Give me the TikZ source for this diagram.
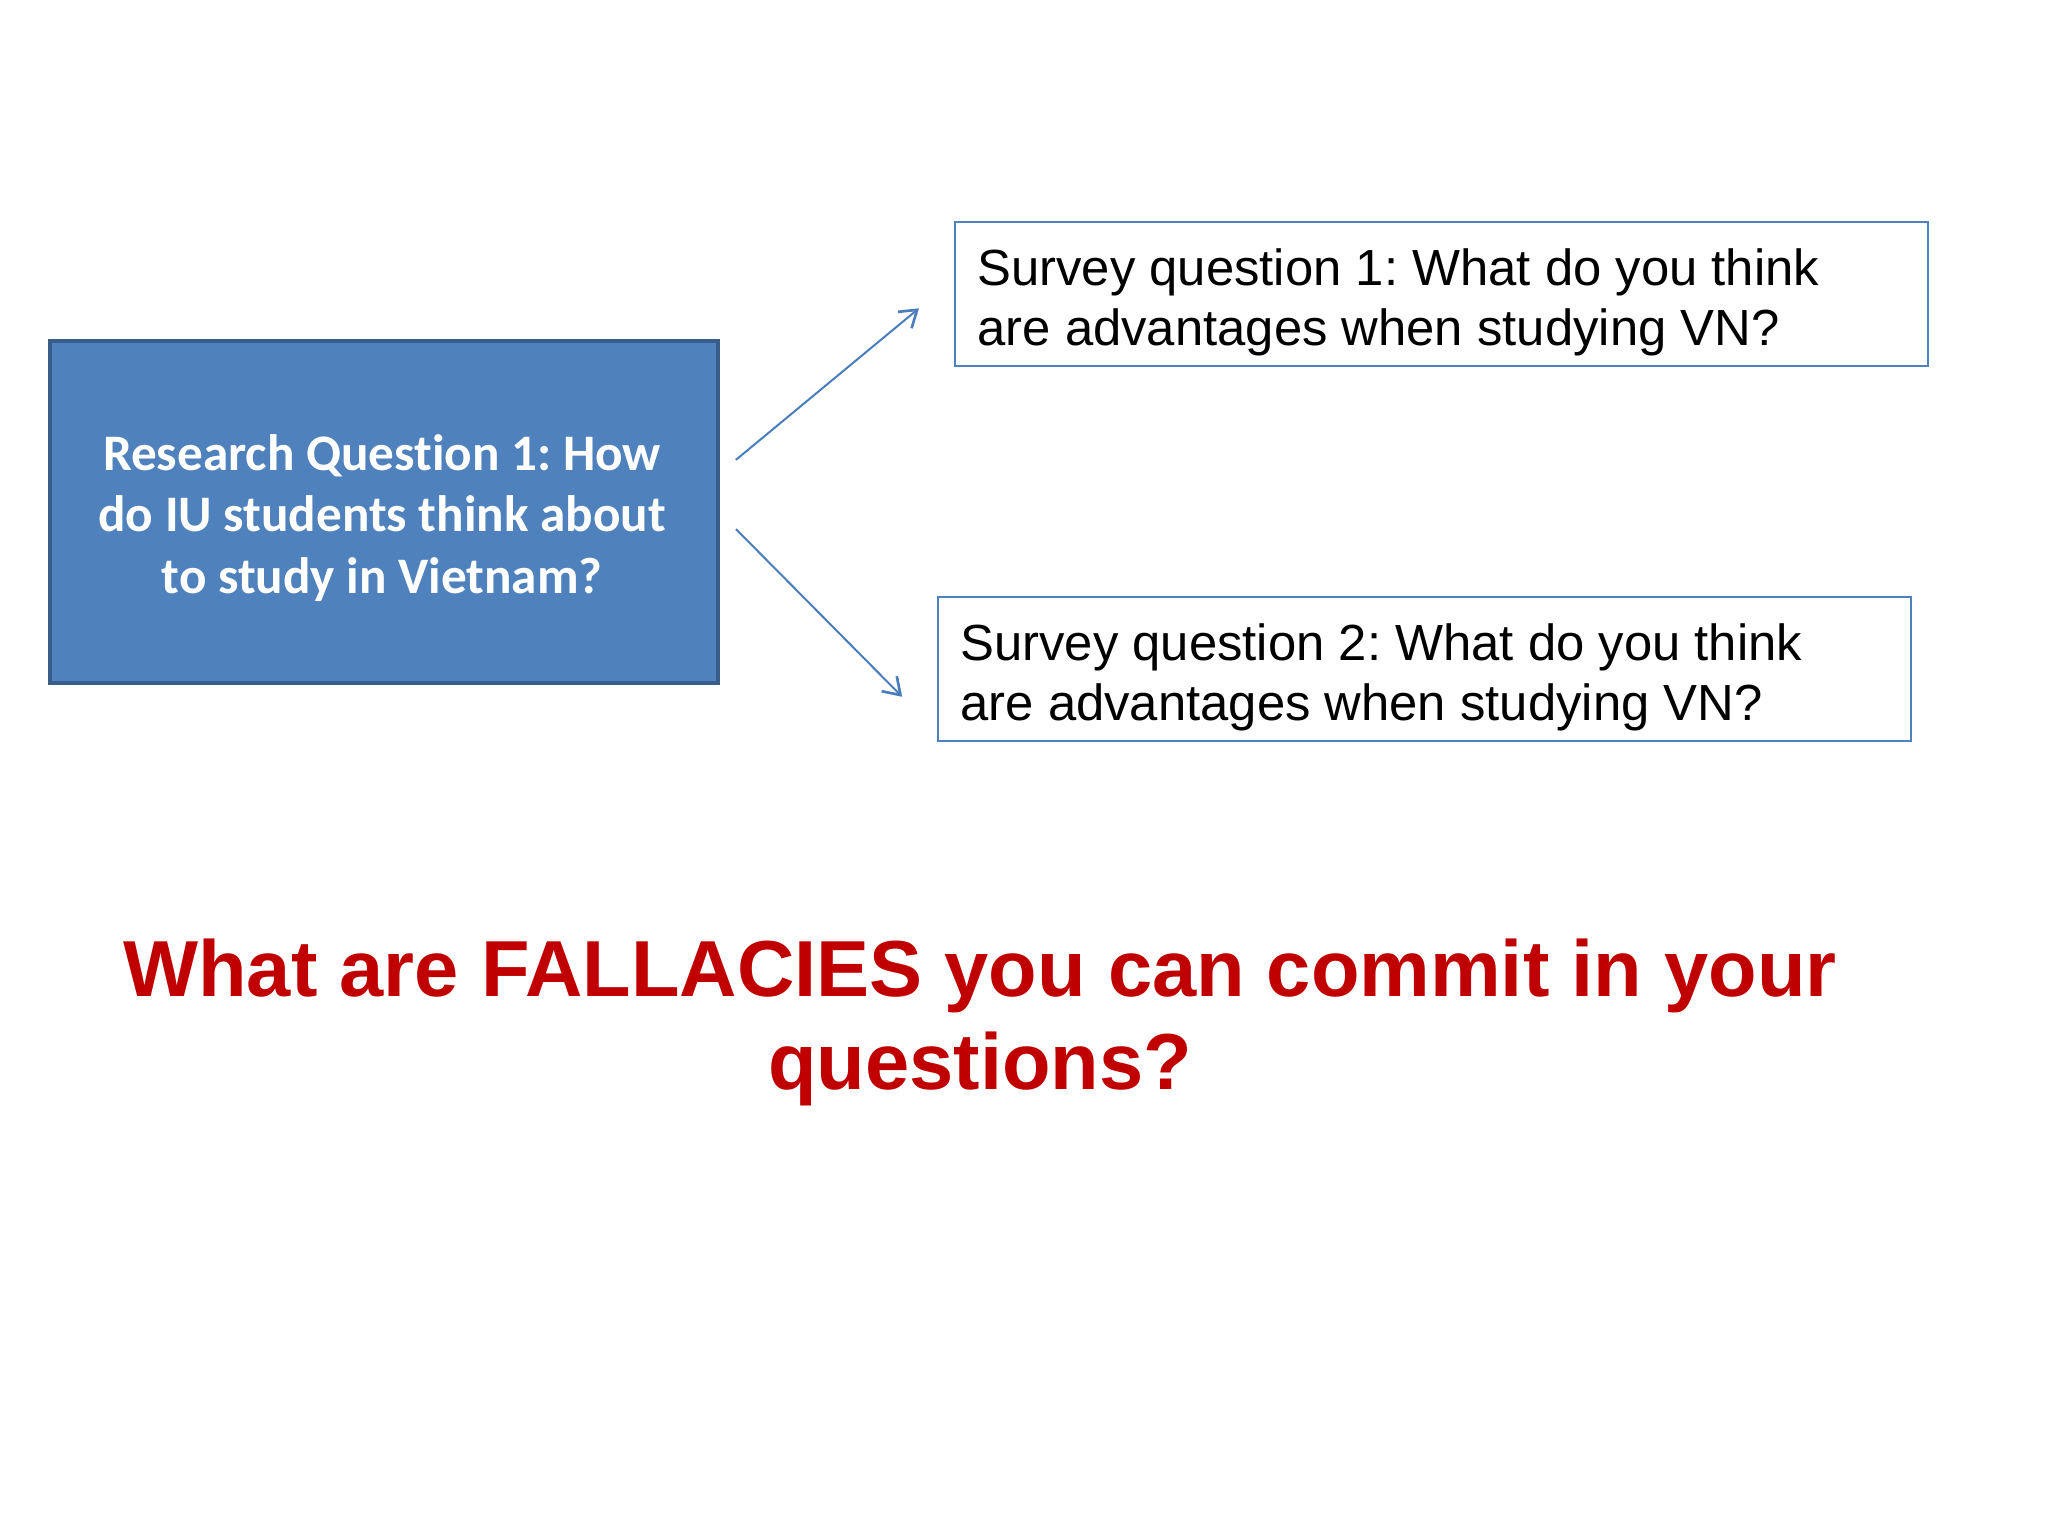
\documentclass[tikz,border=0pt]{standalone}
\usepackage{fontspec}
\setmainfont{Liberation Sans}
\newfontfamily\calibri[Ligatures=NoCommon]{Carlito}
\usetikzlibrary{arrows.meta}
\frenchspacing
\definecolor{boxblue}{HTML}{4F81BD}
\definecolor{boxedge}{HTML}{385D8A}
\definecolor{lineblue}{HTML}{4A7EBB}
\definecolor{slidered}{HTML}{C00000}
\tikzset{
  rqbox/.style={draw=boxedge, line width=1.5pt, fill=boxblue, minimum width=250.5pt, minimum height=128.25pt, inner sep=0pt},
  rqtext/.style={text=white, align=center, inner sep=0pt, font=\calibri\bfseries\fontsize{19.2pt}{22.9pt}\selectfont},
  sbox/.style={draw=boxblue, line width=0.8pt, minimum width=364.9pt, minimum height=54pt, inner sep=0pt},
  stext/.style={anchor=west, align=left, inner sep=0pt, font=\fontsize{19.05pt}{22.5pt}\selectfont},
  arr/.style={draw=lineblue, line width=0.75pt, -{Straight Barb[length=6pt,width=8pt,line width=1pt]}},
  bigq/.style={text=slidered, align=center, inner sep=0pt, font=\bfseries\fontsize{29.8pt}{34.9pt}\selectfont}
}
\begin{document}
\begin{tikzpicture}[x=0.375pt,y=-0.375pt]
\useasboundingbox (0,0) rectangle (2048,1536);
\fill[white] (0,0) rectangle (2048,1536);
% research question box
\node[rqbox] (rq) at (384,512) {};
\node[rqtext] (rqt) at (382,518) {Research Question 1: How\\do IU students think about\\to study in Vietnam?};
% survey boxes
\node[sbox] (s1) at (1441.5,294) {};
\node[stext] (s1t) at (977,302) {Survey question 1: What do you think\\are advantages when studying VN?};
\node[sbox] (s2) at (1424.5,669) {};
\node[stext] (s2t) at (960,677) {Survey question 2: What do you think\\are advantages when studying VN?};
% arrows
\draw[arr, shorten <=7.7pt, shorten >=17pt] ([shift={(0,-39)}]rq.east) -- ([shift={(0,-14.6)}]s1.west);
\draw[arr, shorten <=8.5pt, shorten >=18.5pt] ([shift={(0,1)}]rq.east) -- ([shift={(0,62.8)}]s2.west);
% question
\node[bigq] (fq) at (980,1022) {What are FALLACIES you can commit in your\\questions?};
\end{tikzpicture}
\end{document}
